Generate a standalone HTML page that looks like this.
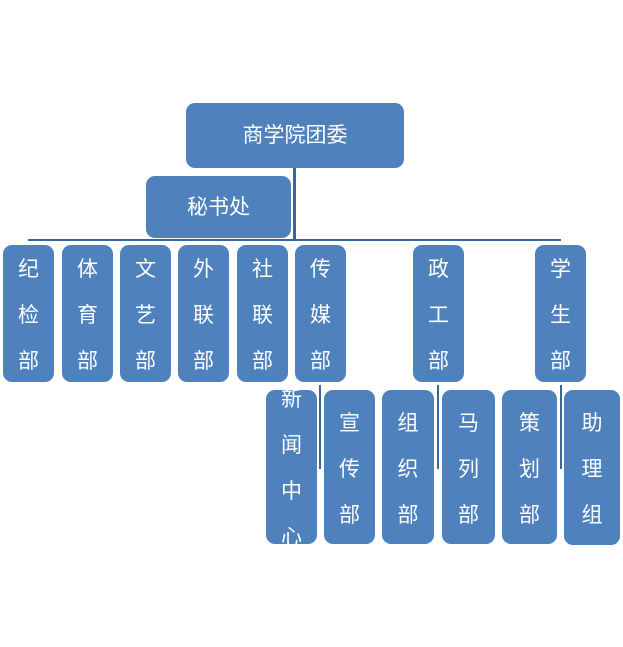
<!DOCTYPE html>
<html><head><meta charset="utf-8"><style>
body{margin:0;width:623px;height:647px;background:#fff;position:relative;overflow:hidden;font-family:"Liberation Sans","Noto Sans CJK SC",sans-serif}
.b{position:absolute;background:#4f81bd;border-radius:9px;color:#fff}
.c{position:absolute;left:0;right:0;text-align:center;font-size:21px;line-height:21px;color:#fff}
.l{position:absolute;background:#3a6597}
</style></head><body>
<div class="l" style="left:28px;top:239px;width:533px;height:2px"></div>
<div class="l" style="left:293px;top:168px;width:3px;height:72px"></div>
<div class="l" style="left:319px;top:385px;width:2px;height:84px"></div>
<div class="l" style="left:437px;top:385px;width:2px;height:84px"></div>
<div class="l" style="left:560px;top:385px;width:2px;height:84px"></div>

<div class="b" style="left:186px;top:103px;width:218px;height:65px"><div class="c" style="top:22px">商学院团委</div></div>
<div class="b" style="left:146px;top:176px;width:145px;height:62px"><div class="c" style="top:21px">秘书处</div></div>

<div class="b" style="left:3px;top:245px;width:51px;height:137px"><div class="c" style="top:14px">纪</div><div class="c" style="top:60px">检</div><div class="c" style="top:106px">部</div></div>
<div class="b" style="left:62px;top:245px;width:51px;height:137px"><div class="c" style="top:14px">体</div><div class="c" style="top:60px">育</div><div class="c" style="top:106px">部</div></div>
<div class="b" style="left:120px;top:245px;width:51px;height:137px"><div class="c" style="top:14px">文</div><div class="c" style="top:60px">艺</div><div class="c" style="top:106px">部</div></div>
<div class="b" style="left:178px;top:245px;width:51px;height:137px"><div class="c" style="top:14px">外</div><div class="c" style="top:60px">联</div><div class="c" style="top:106px">部</div></div>
<div class="b" style="left:237px;top:245px;width:51px;height:137px"><div class="c" style="top:14px">社</div><div class="c" style="top:60px">联</div><div class="c" style="top:106px">部</div></div>
<div class="b" style="left:295px;top:245px;width:51px;height:137px"><div class="c" style="top:14px">传</div><div class="c" style="top:60px">媒</div><div class="c" style="top:106px">部</div></div>
<div class="b" style="left:413px;top:245px;width:51px;height:137px"><div class="c" style="top:14px">政</div><div class="c" style="top:60px">工</div><div class="c" style="top:106px">部</div></div>
<div class="b" style="left:535px;top:245px;width:51px;height:137px"><div class="c" style="top:14px">学</div><div class="c" style="top:60px">生</div><div class="c" style="top:106px">部</div></div>

<div class="b" style="left:266px;top:390px;width:51px;height:154px"><div class="c" style="top:-1px">新</div><div class="c" style="top:45px">闻</div><div class="c" style="top:91px">中</div><div class="c" style="top:137px">心</div></div>
<div class="b" style="left:324px;top:390px;width:51px;height:154px"><div class="c" style="top:23px">宣</div><div class="c" style="top:69px">传</div><div class="c" style="top:115px">部</div></div>
<div class="b" style="left:382px;top:390px;width:52px;height:154px"><div class="c" style="top:23px">组</div><div class="c" style="top:69px">织</div><div class="c" style="top:115px">部</div></div>
<div class="b" style="left:442px;top:390px;width:53px;height:154px"><div class="c" style="top:23px">马</div><div class="c" style="top:69px">列</div><div class="c" style="top:115px">部</div></div>
<div class="b" style="left:502px;top:390px;width:55px;height:154px"><div class="c" style="top:23px">策</div><div class="c" style="top:69px">划</div><div class="c" style="top:115px">部</div></div>
<div class="b" style="left:564px;top:390px;width:56px;height:155px"><div class="c" style="top:23px">助</div><div class="c" style="top:69px">理</div><div class="c" style="top:115px">组</div></div>
</body></html>
